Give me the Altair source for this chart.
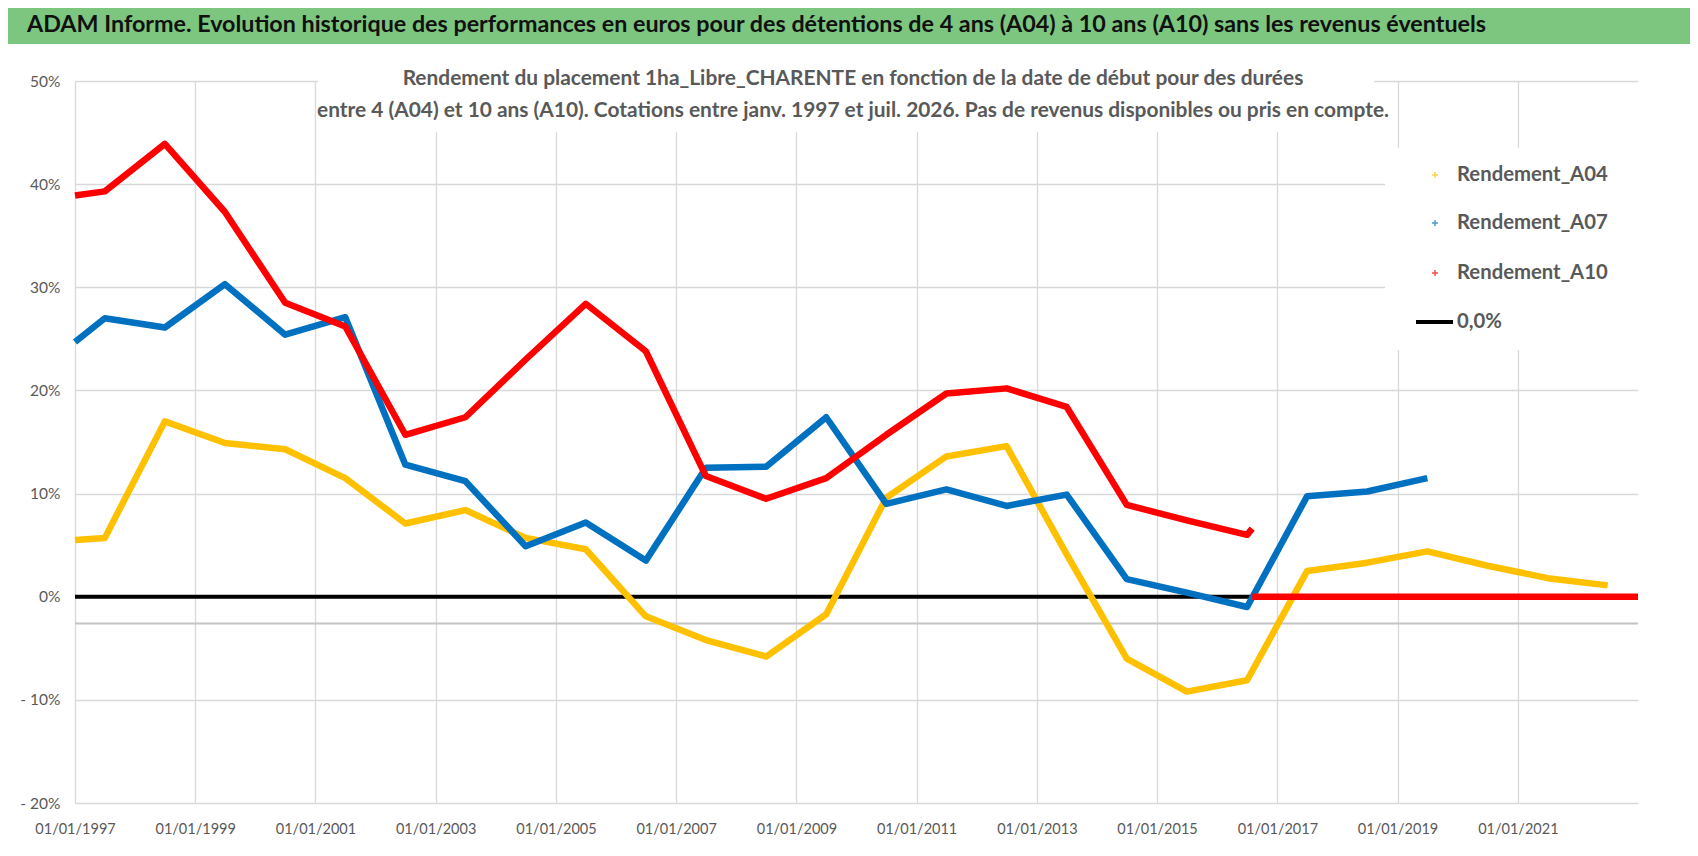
import altair as alt
import pandas as pd

# ---------------- data ----------------
TITLE = "ADAM Informe. Evolution historique des performances en euros pour des détentions de 4 ans (A04) à 10 ans (A10) sans les revenus éventuels"
SUBTITLE_1 = "Rendement du placement 1ha_Libre_CHARENTE en fonction de la date de début pour des durées"
SUBTITLE_2 = "entre 4 (A04) et 10 ans (A10). Cotations entre janv. 1997 et juil. 2026. Pas de revenus disponibles ou pris en compte."

SERIES = ["Rendement_A04", "Rendement_A07", "Rendement_A10"]
ZERO_LABEL = "0,0%"
COLORS = ["#FFC000", "#0070C0", "#FF0000"]

A04_DATES = ["1997/01/01", "1997/07/01", "1998/07/01", "1999/07/01", "2000/07/01", "2001/07/01",
             "2002/07/01", "2003/07/01", "2004/07/01", "2005/07/01", "2006/07/01", "2007/07/01",
             "2008/07/01", "2009/07/01", "2010/07/01", "2011/07/01", "2012/07/01", "2013/07/01",
             "2014/07/01", "2015/07/01", "2016/07/01", "2017/07/01", "2018/07/01", "2019/07/01",
             "2020/07/01", "2021/07/01", "2022/07/01"]
A04_VALUES = [5.5, 5.7, 17.0, 14.9, 14.3, 11.5, 7.1, 8.4, 5.7, 4.6,
              -1.9, -4.2, -5.8, -1.7, 9.6, 13.6, 14.6, 4.1, -6.0, -9.2,
              -8.1, 2.5, 3.3, 4.4, 3.0, 1.8, 1.1]

A07_DATES = ["1997/01/01", "1997/07/01", "1998/07/01", "1999/07/01", "2000/07/01", "2001/07/01",
             "2002/07/01", "2003/07/01", "2004/07/01", "2005/07/01", "2006/07/01", "2007/07/01",
             "2008/07/01", "2009/07/01", "2010/07/01", "2011/07/01", "2012/07/01", "2013/07/01",
             "2014/07/01", "2015/07/01", "2016/07/01", "2017/07/01", "2018/07/01", "2019/07/01"]
A07_VALUES = [24.7, 27.0, 26.1, 30.3, 25.4, 27.1, 12.8, 11.2, 4.9, 7.2,
              3.5, 12.5, 12.6, 17.4, 9.0, 10.4, 8.8, 9.9, 1.7, 0.4,
              -1.0, 9.75, 10.2, 11.5]

A10_DATES = ["1997/01/01", "1997/07/01", "1998/07/01", "1999/07/01", "2000/07/01", "2001/07/01",
             "2002/07/01", "2003/07/01", "2004/07/01", "2005/07/01", "2006/07/01", "2007/07/01",
             "2008/07/01", "2009/07/01", "2010/07/01", "2011/07/01", "2012/07/01", "2013/07/01",
             "2014/07/01", "2015/07/01", "2016/07/01", "2016/08/01"]
A10_VALUES = [38.9, 39.3, 43.9, 37.3, 28.5, 26.2, 15.7, 17.4, 23.0, 28.4,
              23.8, 11.7, 9.5, 11.5, 15.7, 19.7, 20.2, 18.4, 8.9, 7.4,
              6.0, 6.6]
A10_TAIL_DATES = ["2016/08/01", "2023/01/01"]
A10_TAIL_VALUES = [0.0, 0.0]

Y_TICKS = [-20, -10, 0, 10, 20, 30, 40, 50]
X_TICK_YEARS = [1997, 1999, 2001, 2003, 2005, 2007, 2009, 2011, 2013, 2015, 2017, 2019, 2021]
X_START_YEAR, X_END_YEAR = 1997, 2023
AXIS_CROSS = -2.6

# ---------------- layout / style ----------------
FONT = "Lato"
GRAY_TXT = "#595959"
GRID = "#d9d9d9"
W, H = 1563, 722

rows = []
for d, v in zip(A04_DATES, A04_VALUES):
    rows.append({"date": d, "value": v, "serie": SERIES[0], "seg": "a04"})
for d, v in zip(A07_DATES, A07_VALUES):
    rows.append({"date": d, "value": v, "serie": SERIES[1], "seg": "a07"})
for d, v in zip(A10_DATES, A10_VALUES):
    rows.append({"date": d, "value": v, "serie": SERIES[2], "seg": "a10"})
for d, v in zip(A10_TAIL_DATES, A10_TAIL_VALUES):
    rows.append({"date": d, "value": v, "serie": SERIES[2], "seg": "a10_tail"})
df = pd.DataFrame(rows)

one = pd.DataFrame({"k": [0]})

x_scale = alt.Scale(domain=[alt.DateTime(year=X_START_YEAR, month=1, date=1),
                            alt.DateTime(year=X_END_YEAR, month=1, date=1)], nice=False)
y_scale = alt.Scale(domain=[Y_TICKS[0], Y_TICKS[-1]], nice=False, zero=False)

x_axis = alt.Axis(values=[alt.DateTime(year=y, month=1, date=1) for y in X_TICK_YEARS],
                  format="%d/%m/%Y", labelFont=FONT, labelFontSize=14.5, labelColor=GRAY_TXT,
                  labelPadding=19, ticks=False, domain=False, grid=True, gridColor=GRID,
                  gridWidth=1.3, title=None, labelAngle=0, labelOverlap=False, labelFlush=False)
y_axis = alt.Axis(values=Y_TICKS,
                  labelExpr="datum.value < 0 ? '- ' + abs(datum.value) + '%' : datum.value + '%'",
                  labelFont=FONT, labelFontSize=15.5, labelColor=GRAY_TXT, labelPadding=15,
                  ticks=False, domain=False, grid=True, gridColor=GRID, gridWidth=1.3, title=None)

# axes carrier: black 0% line
zero_line = alt.Chart(one).mark_rule(color="black", strokeWidth=4).encode(
    y=alt.Y("v:Q", scale=y_scale, axis=y_axis),
    x=alt.X("a:T", scale=x_scale, axis=x_axis),
    x2="b:T",
).transform_calculate(
    v="0", a=f"datetime({X_START_YEAR},0,1)", b=f"datetime({X_END_YEAR},0,1)"
)

cross_line = alt.Chart(one).mark_rule(color="#c4c4c4", strokeWidth=2).encode(
    y=alt.datum(AXIS_CROSS), x=alt.value(0), x2=alt.value(W))

# white boxes (subtitle and legend background) hiding gridlines
sub_box = alt.Chart(one).mark_rect(color="white").encode(
    x=alt.value(243), x2=alt.value(1299), y=alt.value(-35), y2=alt.value(51))
leg_box = alt.Chart(one).mark_rect(color="white").encode(
    x=alt.value(1310), x2=alt.value(1565), y=alt.value(67), y2=alt.value(269))

lines = []
for name, col in zip(SERIES, COLORS):
    lines.append(
        alt.Chart(df).transform_filter(alt.datum.serie == name).mark_line(
            color=col, strokeWidth=6.5, strokeJoin="round").encode(
            x=alt.X("date:T", scale=x_scale),
            y=alt.Y("value:Q", scale=y_scale),
            detail="seg:N",
        )
    )

# header
bar = alt.Chart(one).mark_rect(color="#7DC67F").encode(
    x=alt.value(-67), x2=alt.value(1615), y=alt.value(-73), y2=alt.value(-37))
title = alt.Chart(one).mark_text(align="left", baseline="middle", font=FONT, fontSize=23.3,
                                 fontWeight="bold", color="#111111").encode(
    x=alt.value(-48), y=alt.value(-56), text=alt.value(TITLE))
sub1 = alt.Chart(one).mark_text(align="center", baseline="middle", font=FONT, fontSize=20.9,
                                fontWeight="bold", color=GRAY_TXT).encode(
    x=alt.value(778), y=alt.value(-2), text=alt.value(SUBTITLE_1))
sub2 = alt.Chart(one).mark_text(align="center", baseline="middle", font=FONT, fontSize=20.9,
                                fontWeight="bold", color=GRAY_TXT).encode(
    x=alt.value(778), y=alt.value(30), text=alt.value(SUBTITLE_2))

# legend
legend_layers = []
LEG_Y = [94, 142, 192]
for name, col, yy in zip(SERIES, COLORS, LEG_Y):
    legend_layers.append(alt.Chart(one).mark_point(
        shape="M-1,0L1,0M0,-1L0,1", filled=False, strokeWidth=1.5, size=36, color=col).encode(
        x=alt.value(1360), y=alt.value(yy)))
    legend_layers.append(alt.Chart(one).mark_text(
        align="left", baseline="middle", font=FONT, fontSize=20.3, fontWeight="bold",
        color=GRAY_TXT).encode(x=alt.value(1382), y=alt.value(yy), text=alt.value(name)))
legend_layers.append(alt.Chart(one).mark_rule(color="black", strokeWidth=4).encode(
    x=alt.value(1341), x2=alt.value(1378), y=alt.value(241)))
legend_layers.append(alt.Chart(one).mark_text(
    align="left", baseline="middle", font=FONT, fontSize=20.3, fontWeight="bold",
    color=GRAY_TXT).encode(x=alt.value(1382), y=alt.value(241), text=alt.value(ZERO_LABEL)))

chart = alt.layer(
    zero_line, cross_line, sub_box, leg_box, *lines, bar, title, sub1, sub2, *legend_layers
).properties(
    width=W, height=H,
    padding={"left": 67, "top": 73, "right": 52, "bottom": 41},
    autosize="none", background="white",
).configure_view(strokeWidth=0)

chart.save("out.html", embed_options={"renderer": "svg", "actions": False})
